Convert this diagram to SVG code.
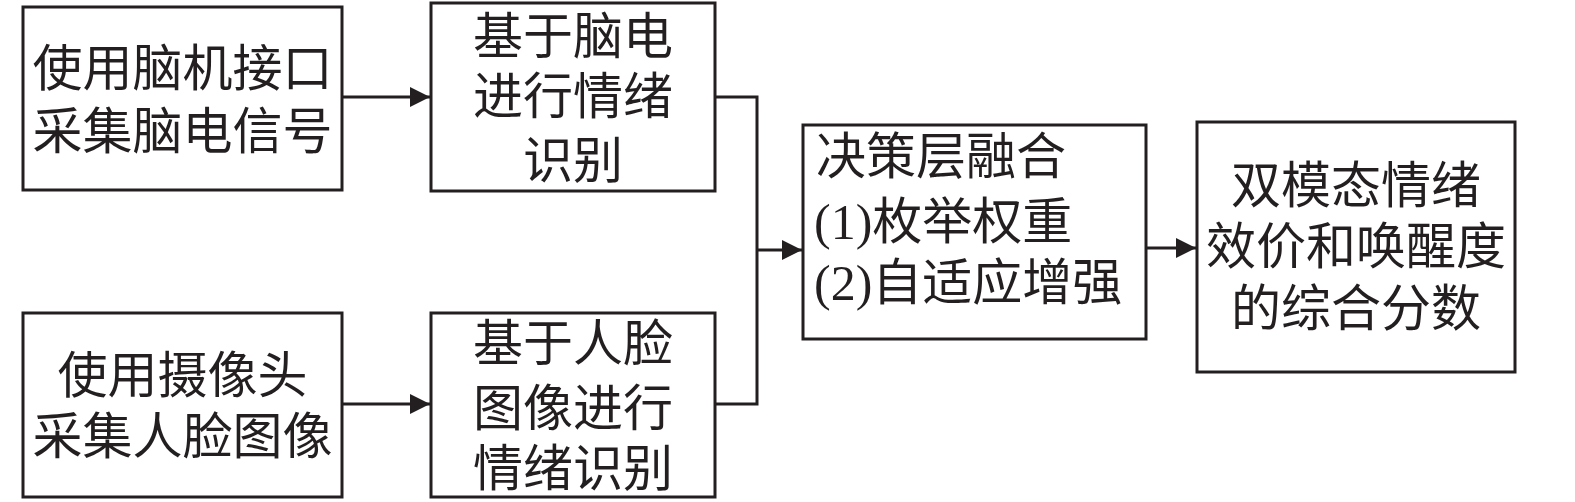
<svg xmlns="http://www.w3.org/2000/svg" width="1575" height="502" viewBox="0 0 1575 502">
<style>
.box{fill:#fff;stroke:#231f20;stroke-width:3}
.t{font-family:"Noto Sans CJK SC","Liberation Serif",sans-serif;font-size:50px;fill:#231f20}
.c{text-anchor:middle}
.ln{fill:none;stroke:#231f20;stroke-width:3}
.p{font-family:"Liberation Serif",serif}
</style>
<defs>
<marker id="ah" markerWidth="20" markerHeight="20" refX="20" refY="10" orient="auto" markerUnits="userSpaceOnUse">
<path d="M0,0 L20,10 L0,20 Z" fill="#231f20"/>
</marker>
</defs>
<g id="connectors">
<line class="ln" x1="342" y1="97" x2="430" y2="97" marker-end="url(#ah)"/>
<line class="ln" x1="342" y1="404" x2="430" y2="404" marker-end="url(#ah)"/>
<polyline class="ln" points="715,97 757,97 757,404 715,404"/>
<line class="ln" x1="757" y1="250" x2="802" y2="250" marker-end="url(#ah)"/>
<line class="ln" x1="1146" y1="248" x2="1196" y2="248" marker-end="url(#ah)"/>
</g>
<g id="nodeA">
<rect class="box" x="23" y="7" width="319" height="183"/>
<text class="t c" x="182.5" y="86">使用脑机接口</text>
<text class="t c" x="182.5" y="149">采集脑电信号</text>
</g>
<g id="nodeB">
<rect class="box" x="431" y="3" width="284" height="188"/>
<text class="t c" x="573" y="54">基于脑电</text>
<text class="t c" x="573" y="114">进行情绪</text>
<text class="t c" x="573" y="178">识别</text>
</g>
<g id="nodeC">
<rect class="box" x="23" y="313" width="319" height="184"/>
<text class="t c" x="182.5" y="393">使用摄像头</text>
<text class="t c" x="182.5" y="454">采集人脸图像</text>
</g>
<g id="nodeD">
<rect class="box" x="431" y="313" width="284" height="184"/>
<text class="t c" x="573" y="361">基于人脸</text>
<text class="t c" x="573" y="426">图像进行</text>
<text class="t c" x="573" y="486">情绪识别</text>
</g>
<g id="nodeE">
<rect class="box" x="803" y="125" width="343" height="214"/>
<text class="t" x="816" y="174">决策层融合</text>
<text class="t" x="814" y="239"><tspan class="p">(1)</tspan>枚举权重</text>
<text class="t" x="814" y="300"><tspan class="p">(2)</tspan>自适应增强</text>
</g>
<g id="nodeF">
<rect class="box" x="1197" y="122" width="318" height="250"/>
<text class="t c" x="1356" y="203">双模态情绪</text>
<text class="t c" x="1356" y="264">效价和唤醒度</text>
<text class="t c" x="1356" y="326">的综合分数</text>
</g>
</svg>
